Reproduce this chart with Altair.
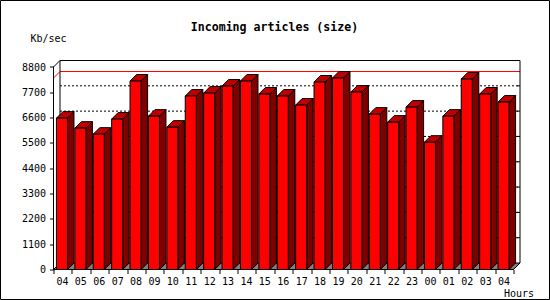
import altair as alt
import pandas as pd

# ---------------- data ----------------
hours = ["04", "05", "06", "07", "08", "09", "10", "11", "12", "13", "14", "15",
         "16", "17", "18", "19", "20", "21", "22", "23", "00", "01", "02", "03", "04"]
kbsec = [6578, 6142, 5881, 6535, 8190, 6665, 6186, 7537, 7667, 7972, 8190, 7624,
         7537, 7145, 8147, 8321, 7711, 6752, 6404, 7057, 5533, 6665, 8277, 7624, 7275]
y_ticks = [0, 1100, 2200, 3300, 4400, 5500, 6600, 7700, 8800]
title_text = "Incoming articles (size)"
y_title = "Kb/sec"
x_title = "Hours"

# ---------------- layout (pixels) ----------------
P = 18.4          # px per hour slot
D = 6.5           # 3-D depth in px
H = 209.0         # plot height incl. depth
N = len(hours)
W = (N + D / P) * P
YMAX = y_ticks[-1]
DX = D / P                        # depth in x units
DY = D * YMAX / (H - D)           # depth in y units
BAR_L, BAR_W = 0.16, 0.60
XMAX, YTOP = N + DX, YMAX + DY

xs = alt.Scale(domain=[0, XMAX], nice=False, zero=False)
ys = alt.Scale(domain=[0, YTOP], nice=False, zero=False)

# ---------------- derived tables ----------------
front = pd.DataFrame({"i": range(N), "v": kbsec})
front["L"] = front["i"] + BAR_L
front["R"] = front["L"] + BAR_W
front["zero"] = 0.0

side_rows, top_rows = [], []
for i, v in enumerate(kbsec):
    L = i + BAR_L
    R = L + BAR_W
    side_rows += [{"id": i, "x": R, "lo": 0.0, "hi": v},
                  {"id": i, "x": R + DX, "lo": DY, "hi": v + DY}]
    top_rows += [{"id": i, "y": v, "xa": L, "xb": R},
                 {"id": i, "y": v + DY, "xa": L + DX, "xb": R + DX}]
side = pd.DataFrame(side_rows)
top = pd.DataFrame(top_rows)

floor = pd.DataFrame([{"y": 0.0, "xa": 0.0, "xb": float(N)},
                      {"y": DY, "xa": DX, "xb": XMAX}])

grid = pd.DataFrame({"y": [t + DY for t in y_ticks[1:-1]], "xa": DX, "xb": XMAX})
rticks = pd.DataFrame({"y": [t + DY for t in y_ticks[1:-1]], "xa": XMAX - 0.17, "xb": XMAX})

frame = pd.DataFrame([
    {"x": 0.0, "y": 0.0, "x2": 0.0, "y2": float(YMAX)},
    {"x": 0.0, "y": float(YMAX), "x2": DX, "y2": YTOP},
    {"x": DX, "y": DY, "x2": DX, "y2": YTOP},
    {"x": DX, "y": YTOP, "x2": XMAX, "y2": YTOP},
    {"x": XMAX, "y": DY, "x2": XMAX, "y2": YTOP},
    {"x": 0.0, "y": 0.0, "x2": float(N), "y2": 0.0},
    {"x": float(N), "y": 0.0, "x2": XMAX, "y2": DY},
    {"x": 0.0, "y": 0.0, "x2": DX, "y2": DY},
])

vmax = max(kbsec)
maxline = pd.DataFrame([
    {"x": 0.0, "y": vmax, "x2": DX, "y2": vmax + DY},
    {"x": DX, "y": vmax + DY, "x2": XMAX, "y2": vmax + DY},
])

FONT = "DejaVu Sans Mono"
label_arr = "[" + ",".join("'%s'" % h for h in hours) + "]"

x_axis = alt.Axis(values=list(range(N + 1)), tickSize=4, tickColor="black",
                  domain=False, grid=False, labelOffset=BAR_L * P + BAR_W * P / 2,
                  labelExpr="datum.value < %d ? %s[datum.value] : ''" % (N, label_arr),
                  labelFont=FONT, labelFontSize=10, labelColor="black",
                  labelPadding=3, labelOverlap=False, labelFlush=False, labelBound=False,
                  title=x_title, titleFont=FONT, titleFontSize=10, titleFontWeight="normal",
                  titleColor="black", titleAlign="right", titleBaseline="middle",
                  titleX=533.5 - 53.5, titleY=23.5)
y_axis = alt.Axis(values=y_ticks, tickSize=4, tickColor="black", domain=False, grid=False,
                  format="d", labelFont=FONT, labelFontSize=10, labelColor="black",
                  labelPadding=4, labelFlush=False, labelBound=False,
                  title=y_title, titleFont=FONT, titleFontSize=10, titleFontWeight="normal",
                  titleColor="black", titleAngle=0, titleAlign="left", titleBaseline="middle",
                  titleX=-23.5, titleY=-22.5)


def X(field):
    return alt.X(field, scale=xs, axis=x_axis)


def Y(field):
    return alt.Y(field, scale=ys, axis=y_axis)


grid_l = alt.Chart(grid).mark_rule(color="black", strokeWidth=1, strokeDash=[2, 2]).encode(
    x=X("xa:Q"), x2="xb:Q", y=Y("y:Q"))

rtick_l = alt.Chart(rticks).mark_rule(color="black", strokeWidth=1).encode(
    x=X("xa:Q"), x2="xb:Q", y=Y("y:Q"))

max_l = alt.Chart(maxline).mark_rule(color="#ff0000", strokeWidth=1).encode(
    x=X("x:Q"), x2="x2:Q", y=Y("y:Q"), y2="y2:Q")

floor_l = alt.Chart(floor).mark_area(orient="horizontal", color="#808080",
                                      stroke="black", strokeWidth=1, opacity=1).encode(
    y=Y("y:Q"), x=X("xa:Q"), x2="xb:Q")

frame_l = alt.Chart(frame).mark_rule(color="black", strokeWidth=1).encode(
    x=X("x:Q"), x2="x2:Q", y=Y("y:Q"), y2="y2:Q")

side_l = alt.Chart(side).mark_area(orient="vertical", color="#800000",
                                    stroke="black", strokeWidth=1, opacity=1).encode(
    x=X("x:Q"), y=Y("lo:Q"), y2="hi:Q", detail="id:N")

top_l = alt.Chart(top).mark_area(orient="horizontal", color="#c00000",
                                  stroke="black", strokeWidth=1, opacity=1).encode(
    y=Y("y:Q"), x=X("xa:Q"), x2="xb:Q", detail="id:N")

front_l = alt.Chart(front).mark_rect(color="#ff0000", stroke="black", strokeWidth=1,
                                      opacity=1).encode(
    x=X("L:Q"), x2="R:Q", y=Y("zero:Q"), y2="v:Q")

border_l = alt.Chart(pd.DataFrame({"k": [0]})).mark_rect(
    filled=False, stroke="black", strokeWidth=1).encode(
    x=alt.value(-53.0), x2=alt.value(W + 29.5),
    y=alt.value(-60.0), y2=alt.value(H + 30.0))

chart = alt.layer(grid_l, rtick_l, max_l, floor_l, frame_l, side_l, top_l, front_l, border_l).properties(
    width=W, height=H,
    padding={"left": 53.5, "top": 60.5, "right": 550 - 53.5 - W, "bottom": 300 - 60.5 - H},
    autosize=alt.AutoSizeParams(type="none"),
    background="white",
    title=alt.TitleParams(title_text, font=FONT, fontSize=11.6, fontWeight="bold",
                          color="black", anchor="middle", frame="group",
                          dx=274.5 - (53.5 + W / 2), dy=38, offset=4),
).configure_view(strokeWidth=0)

chart.save("out.html", embed_options={"renderer": "svg", "actions": False})
